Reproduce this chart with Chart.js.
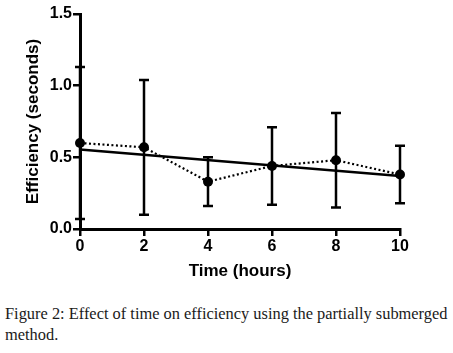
<!DOCTYPE html>
<html>
<head>
<meta charset="utf-8">
<script src="https://cdn.jsdelivr.net/npm/chart.js@4"></script>
<style>
  body { margin: 0; background: #fff; width: 453px; height: 353px; overflow: hidden; position: relative; }
  #wrap { position: absolute; left: 0; top: 0; width: 453px; height: 290px; }
  #caption {
    position: absolute; left: 5px; top: 303px; width: 450px;
    font-family: "Liberation Serif", serif; font-size: 16.4px; line-height: 21px;
    color: #1a1a1a; white-space: nowrap;
  }
</style>
</head>
<body>
<div id="wrap"><canvas id="chart"></canvas></div>
<div id="caption">Figure 2: Effect of time on efficiency using the partially submerged<br>method.</div>
<script>
// data
const times = [0, 2, 4, 6, 8, 10];
const means = [0.60, 0.57, 0.33, 0.44, 0.48, 0.38];
const errors = [0.53, 0.47, 0.17, 0.27, 0.33, 0.20];
const fitX = [0, 10];
const fitY = [0.555, 0.37];
const xTicks = [0, 2, 4, 6, 8, 10];
const yTicks = [0, 0.5, 1.0, 1.5];

// error bars drawn with the chart's own scales
const errorBars = {
    id: 'errorBars',
    beforeDatasetsDraw(chart) {
        const ctx = chart.ctx;
        const xs = chart.scales.x, ys = chart.scales.y;
        ctx.save();
        ctx.strokeStyle = '#000';
        ctx.lineWidth = 2.5;
        times.forEach(function (t, i) {
            const px = xs.getPixelForValue(t);
            const top = ys.getPixelForValue(means[i] + errors[i]);
            const bot = ys.getPixelForValue(means[i] - errors[i]);
            ctx.beginPath();
            ctx.moveTo(px, top); ctx.lineTo(px, bot);
            ctx.moveTo(px - 5, top); ctx.lineTo(px + 5, top);
            ctx.moveTo(px - 5, bot); ctx.lineTo(px + 5, bot);
            ctx.stroke();
        });
        ctx.restore();
    }
};

const tickFont = { family: 'Liberation Sans, Arial', size: 16, weight: 'bold' };
const titleFont = { family: 'Liberation Sans, Arial', size: 17, weight: 'bold' };

new Chart(document.getElementById('chart'), {
    type: 'scatter',
    data: {
        datasets: [{
            label: 'Efficiency',
            data: times.map((t, i) => ({ x: t, y: means[i] })),
            showLine: true,
            borderColor: '#000',
            borderWidth: 2.2,
            borderDash: [2, 2.5],
            pointRadius: 5,
            pointBackgroundColor: '#000',
            pointBorderColor: '#000',
            pointBorderWidth: 0
        }, {
            label: 'Fit',
            data: fitX.map((t, i) => ({ x: t, y: fitY[i] })),
            showLine: true,
            borderColor: '#000',
            borderWidth: 2.5,
            pointRadius: 0
        }]
    },
    plugins: [errorBars],
    options: {
        responsive: true,
        maintainAspectRatio: false,
        animation: false,
        clip: false,
        layout: { padding: { top: 14, right: 53, left: 0, bottom: 0 } },
        plugins: {
            legend: { display: false },
            tooltip: { enabled: false }
        },
        scales: {
            x: {
                type: 'linear',
                min: 0,
                max: 10,
                afterFit: function (s) { s.height = 61; },
                afterBuildTicks: function (s) { s.ticks = xTicks.map(v => ({ value: v })); },
                border: { display: true, color: '#000', width: 3 },
                grid: { drawOnChartArea: false, drawTicks: true, tickLength: 7, color: '#000', lineWidth: 2.5 },
                ticks: { color: '#000', font: tickFont, padding: 1, maxRotation: 0 },
                title: { display: true, text: 'Time (hours)', color: '#000', font: titleFont, padding: { top: 0, bottom: 8 } }
            },
            y: {
                type: 'linear',
                min: 0,
                max: 1.5,
                afterFit: function (s) { s.width = 80; },
                afterBuildTicks: function (s) { s.ticks = yTicks.map(v => ({ value: v })); },
                border: { display: true, color: '#000', width: 3 },
                grid: { drawOnChartArea: false, drawTicks: true, tickLength: 7, color: '#000', lineWidth: 2.5 },
                ticks: {
                    color: '#000', font: tickFont, padding: 1,
                    callback: function (v) { return v.toFixed(1); }
                },
                title: { display: true, text: 'Efficiency (seconds)', color: '#000', font: titleFont, padding: { top: 23, bottom: 0 } }
            }
        }
    }
});
</script>
</body>
</html>
